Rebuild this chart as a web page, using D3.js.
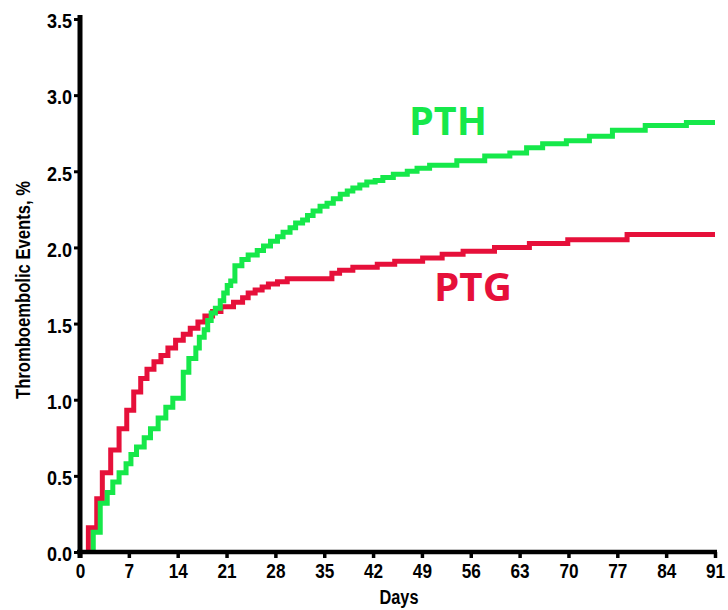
<!DOCTYPE html>
<html>
<head>
<meta charset="utf-8">
<script src="https://cdn.jsdelivr.net/npm/d3@7"></script>
<style>
  html, body { margin: 0; padding: 0; background: #fff; }
  svg { display: block; }
  .tick text, .lbl { font-family: "Liberation Sans", Arial, sans-serif; font-weight: bold; fill: #000; }
  .ytk .tick text { transform-box: fill-box; transform-origin: right center; transform: scaleX(0.86); }
  .xtk .tick text { transform-box: fill-box; transform-origin: center center; transform: scaleX(0.86); }
</style>
</head>
<body>
<svg id="chart" width="728" height="610"></svg>
<script>
// ---- Data ----
const xTicks = [0, 7, 14, 21, 28, 35, 42, 49, 56, 63, 70, 77, 84, 91];
const yTicks = [0, 0.5, 1.0, 1.5, 2.0, 2.5, 3.0, 3.5];

// PTG (red) step curve: day at which value starts, value
const ptgDays = [1.2, 1.2, 2.4, 3.2, 4.4, 5.6, 6.7, 7.7, 8.7, 9.6, 10.6, 11.6, 12.6, 13.7, 14.8, 15.8, 16.9, 17.9, 19.0, 20.2, 22.0, 23.3, 24.1, 25.1, 26.1, 27.0, 28.3, 29.7, 36.1, 37.2, 39.1, 42.6, 45.1, 49.1, 51.9, 54.9, 59.4, 64.4, 69.9, 78.4, 91];
const ptgValues = [0, 0.16, 0.35, 0.52, 0.67, 0.81, 0.93, 1.05, 1.14, 1.20, 1.25, 1.29, 1.34, 1.39, 1.43, 1.47, 1.51, 1.55, 1.58, 1.61, 1.64, 1.67, 1.70, 1.72, 1.74, 1.76, 1.775, 1.795, 1.83, 1.85, 1.87, 1.89, 1.91, 1.93, 1.955, 1.975, 2.0, 2.025, 2.05, 2.085, 2.085];

// PTH (green) step curve
const pthDays = [1.9, 1.9, 2.9, 3.9, 4.7, 5.6, 6.6, 7.3, 8.1, 9.2, 10.1, 11.2, 12.3, 13.3, 14.8, 15.6, 16.6, 17.1, 17.8, 18.3, 18.8, 19.4, 20.1, 20.6, 21.1, 21.6, 22.2, 23.2, 24.1, 25.4, 26.3, 27.3, 28.3, 29.1, 30.1, 30.9, 31.9, 32.6, 33.4, 34.4, 35.4, 36.3, 37.3, 38.3, 39.1, 40.1, 41.1, 42.3, 43.4, 44.9, 46.9, 48.3, 50.1, 54.0, 58.0, 61.6, 64.0, 66.3, 69.7, 73.0, 76.3, 81.0, 86.9, 91];
const pthValues = [0, 0.13, 0.32, 0.39, 0.46, 0.52, 0.58, 0.64, 0.69, 0.75, 0.81, 0.88, 0.95, 1.01, 1.18, 1.27, 1.34, 1.41, 1.46, 1.52, 1.57, 1.60, 1.65, 1.70, 1.75, 1.78, 1.88, 1.92, 1.95, 1.98, 2.01, 2.04, 2.07, 2.10, 2.13, 2.16, 2.18, 2.21, 2.24, 2.27, 2.29, 2.32, 2.35, 2.37, 2.39, 2.41, 2.43, 2.44, 2.46, 2.48, 2.50, 2.52, 2.54, 2.57, 2.60, 2.62, 2.655, 2.68, 2.70, 2.73, 2.77, 2.80, 2.82, 2.82];

const seriesNames = ["PTH", "PTG"];
const seriesColors = ["#16e84a", "#e6103a"];

// ---- Chart ----
const svg = d3.select("#chart");
svg.append("rect").attr("width", 728).attr("height", 610).attr("fill", "#fff");

const x = d3.scaleLinear().domain([0, 91]).range([80, 715]);
const y = d3.scaleLinear().domain([0, 3.5]).range([552, 19]);

const line = d3.line()
  .x(d => x(d[0]))
  .y(d => y(d[1]))
  .curve(d3.curveStepAfter);

const ptg = ptgDays.map((d, i) => [d, ptgValues[i]]);
const pth = pthDays.map((d, i) => [d, pthValues[i]]);

svg.append("path").datum(ptg)
  .attr("d", line).attr("fill", "none")
  .attr("stroke", seriesColors[1]).attr("stroke-width", 5)
  .attr("stroke-linejoin", "miter");

svg.append("path").datum(pth)
  .attr("d", line).attr("fill", "none")
  .attr("stroke", seriesColors[0]).attr("stroke-width", 5)
  .attr("stroke-linejoin", "miter");

// Axes
const yAxis = d3.axisLeft(y).tickValues(yTicks).tickFormat(d3.format(".1f"))
  .tickSize(6).tickPadding(2).tickSizeOuter(0);
const gy = svg.append("g").attr("class", "ytk").attr("transform", `translate(${x(0)},0)`).call(yAxis);
gy.select(".domain").remove();
gy.selectAll(".tick line").attr("stroke", "#000").attr("stroke-width", 3);
gy.selectAll(".tick text").attr("font-size", 21).attr("dy", "0.42em");

const xAxis = d3.axisBottom(x).tickValues(xTicks).tickFormat(d3.format("d"))
  .tickSize(6).tickPadding(6).tickSizeOuter(0);
const gx = svg.append("g").attr("class", "xtk").attr("transform", `translate(0,${y(0)})`).call(xAxis);
gx.select(".domain").remove();
gx.selectAll(".tick line").attr("stroke", "#000").attr("stroke-width", 3.5);
gx.selectAll(".tick text").attr("font-size", 20);

// axis lines
svg.append("line")
  .attr("x1", x(0)).attr("x2", x(0))
  .attr("y1", y(3.5) - 4).attr("y2", y(0) + 6)
  .attr("stroke", "#000").attr("stroke-width", 5);
svg.append("line")
  .attr("x1", x(0) - 3).attr("x2", x(91) + 2)
  .attr("y1", y(0)).attr("y2", y(0))
  .attr("stroke", "#000").attr("stroke-width", 4.5);

// axis titles
svg.append("text").attr("class", "lbl")
  .attr("x", 399).attr("y", 604)
  .attr("text-anchor", "middle").attr("font-size", 20)
  .attr("textLength", 39).attr("lengthAdjust", "spacingAndGlyphs")
  .text("Days");

svg.append("text").attr("class", "lbl")
  .attr("transform", "translate(30,290) rotate(-90)")
  .attr("text-anchor", "middle").attr("font-size", 21)
  .attr("textLength", 218).attr("lengthAdjust", "spacingAndGlyphs")
  .text("Thromboembolic Events, %");

// series labels
svg.append("text")
  .attr("x", 409).attr("y", 135)
  .attr("font-family", "'Open Sans', 'Liberation Sans', sans-serif")
  .attr("font-weight", "bold").attr("font-size", 40)
  .attr("textLength", 78).attr("lengthAdjust", "spacingAndGlyphs")
  .attr("fill", seriesColors[0]).text(seriesNames[0]);

svg.append("text")
  .attr("x", 434).attr("y", 301)
  .attr("font-family", "'Open Sans', 'Liberation Sans', sans-serif")
  .attr("font-weight", "bold").attr("font-size", 40)
  .attr("textLength", 78).attr("lengthAdjust", "spacingAndGlyphs")
  .attr("fill", seriesColors[1]).text(seriesNames[1]);
</script>
</body>
</html>
